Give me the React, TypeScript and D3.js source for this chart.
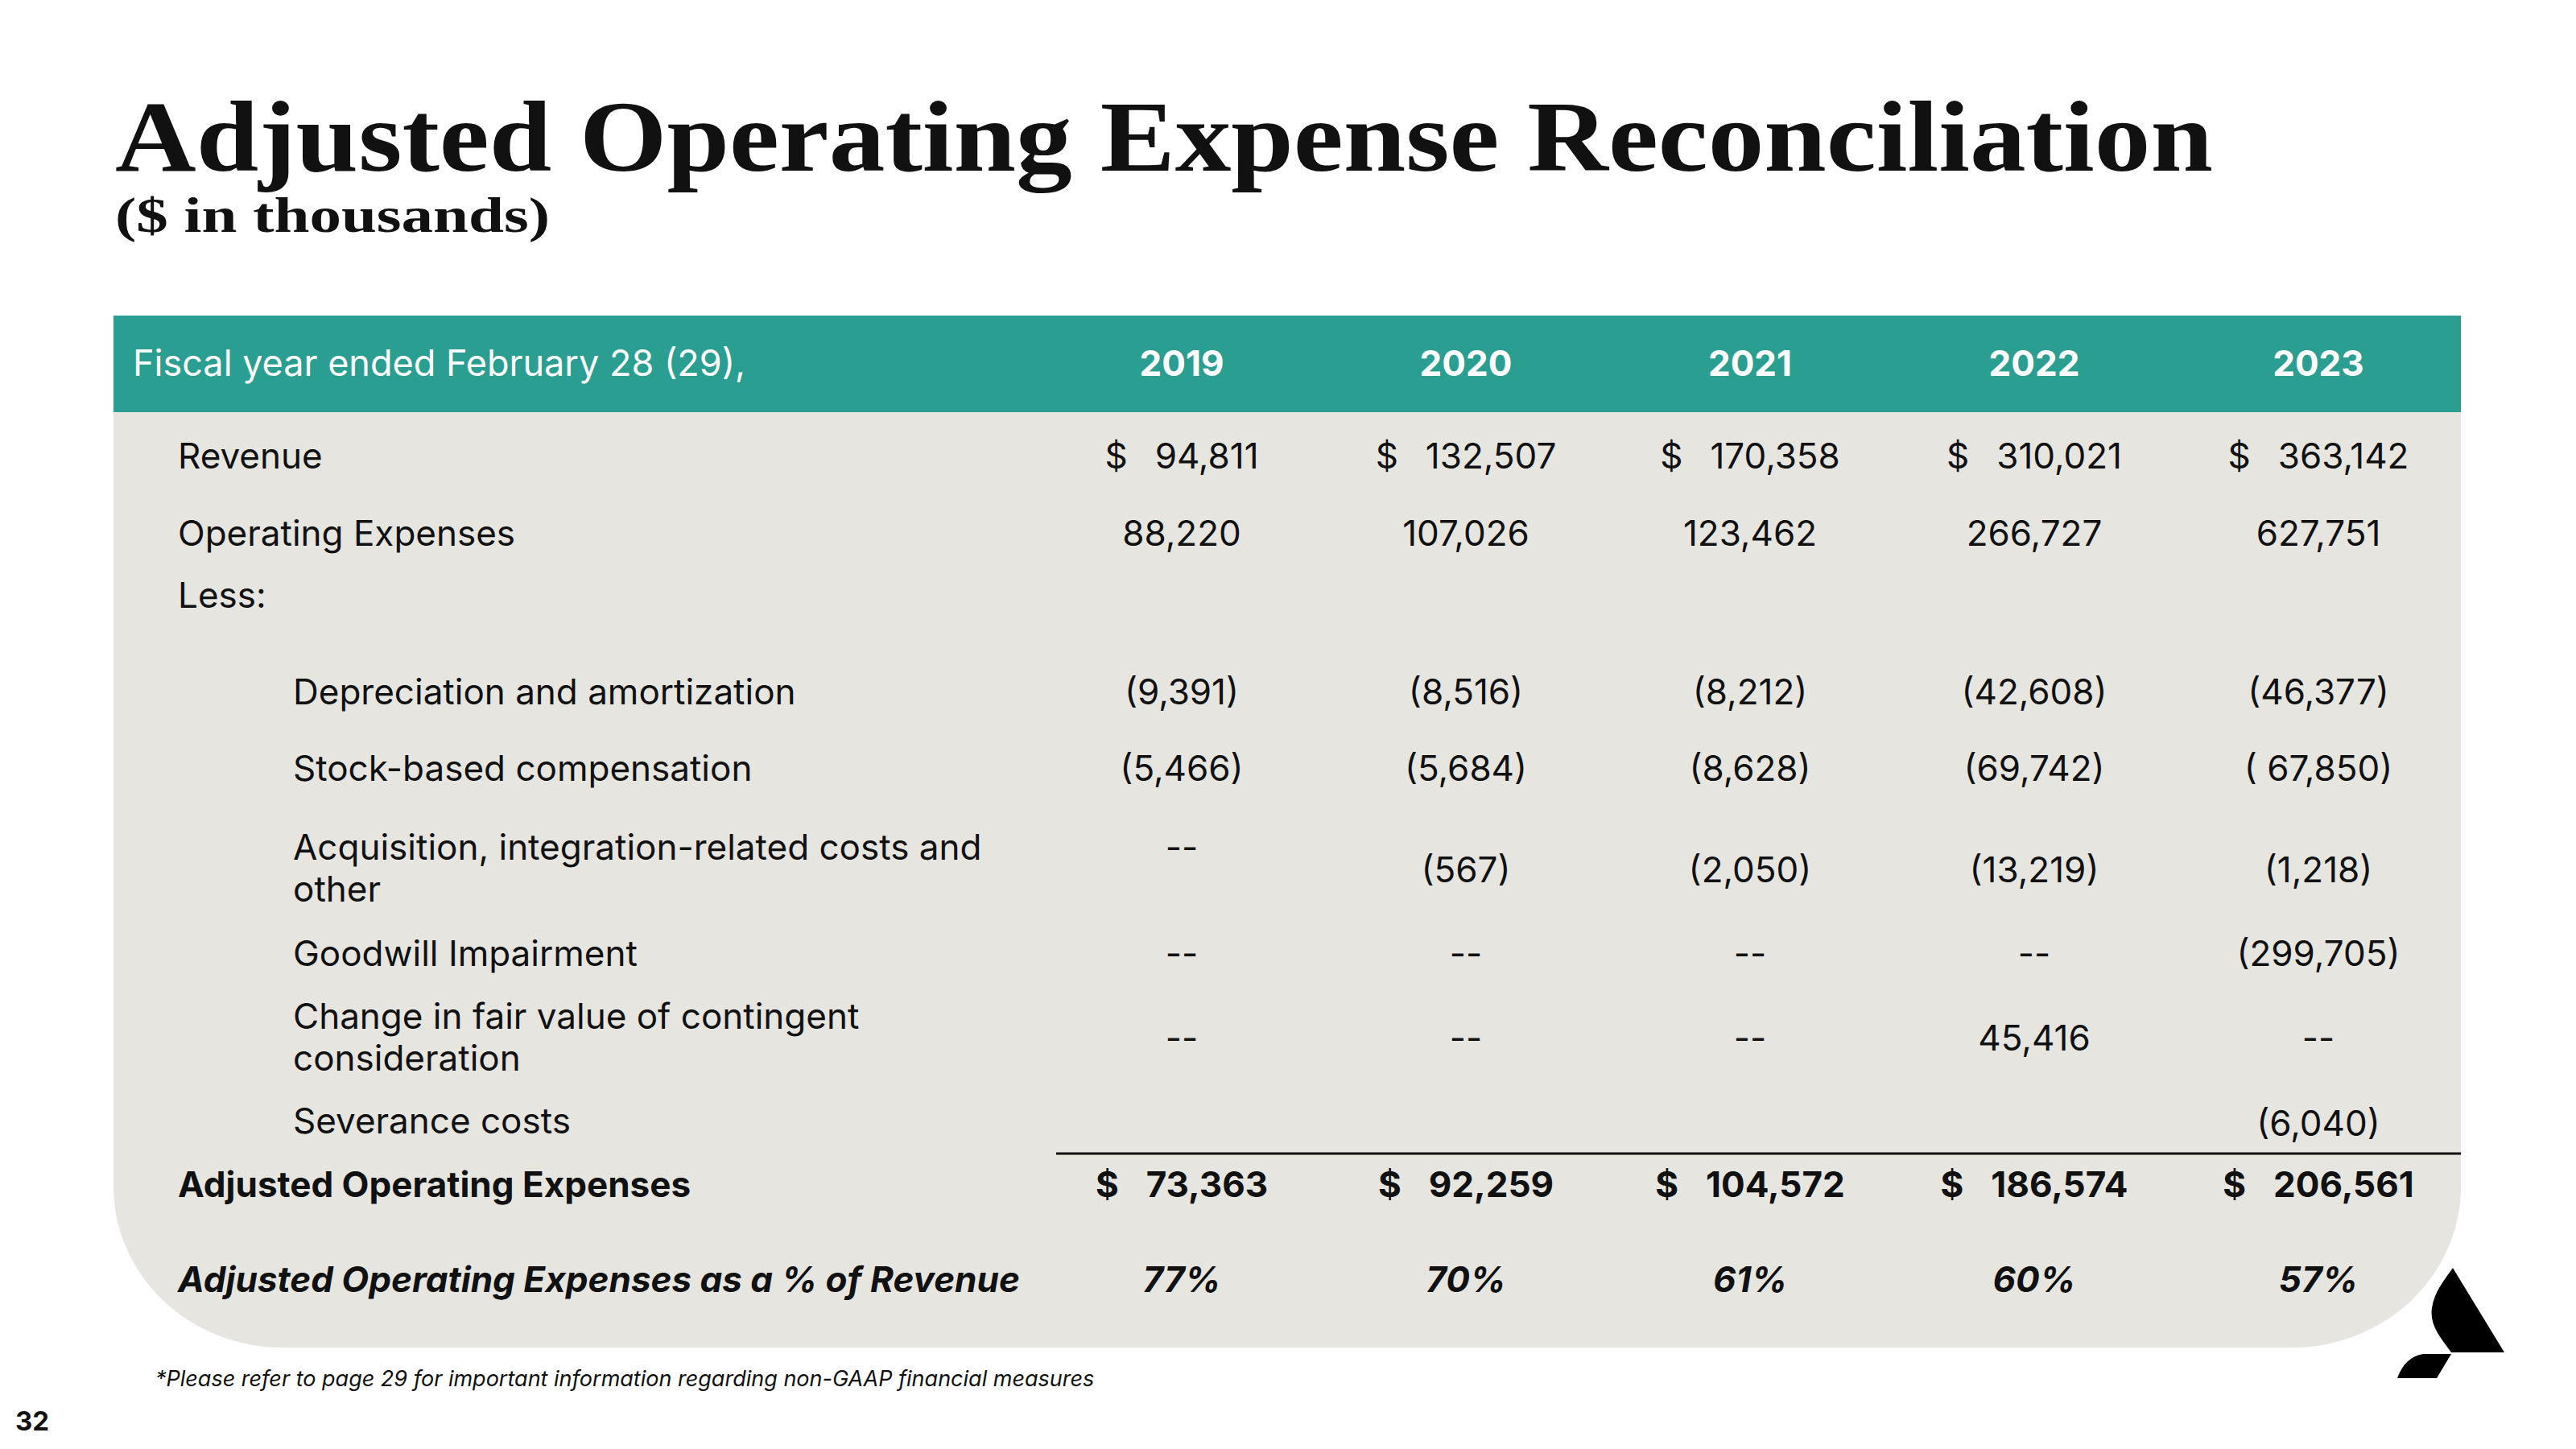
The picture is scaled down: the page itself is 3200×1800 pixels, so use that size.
import React from "react";
import * as d3 from "d3";

const years = ["2019", "2020", "2021", "2022", "2023"];
const revenue = [94811, 132507, 170358, 310021, 363142];
const operatingExpenses = [88220, 107026, 123462, 266727, 627751];
const depreciation = ["(9,391)", "(8,516)", "(8,212)", "(42,608)", "(46,377)"];
const stockComp = ["(5,466)", "(5,684)", "(8,628)", "(69,742)", "( 67,850)"];
const acquisition = ["--", "(567)", "(2,050)", "(13,219)", "(1,218)"];
const goodwill = ["--", "--", "--", "--", "(299,705)"];
const contingent = ["--", "--", "--", "45,416", "--"];
const severance = ["", "", "", "", "(6,040)"];
const adjustedOpex = [73363, 92259, 104572, 186574, 206561];
const adjustedPct = ["77%", "70%", "61%", "60%", "57%"];

const TEAL = "#2A9E91";
const GREY = "#E6E5E0";
const SANS = "Inter, 'Noto Sans', sans-serif";
const SERIF = "'Liberation Serif', 'DejaVu Serif', serif";

const fmt = d3.format(",");

export default function App() {
  const W = 3200;
  const H = 1800;
  const left = 141;
  const right = 3057;
  const bandTop = 392;
  const bandBottom = 512;
  const bodyBottom = 1674;
  const rx = 210;
  const ry = 200;

  const x = d3.scalePoint<string>().domain(years).range([1468, 2880]);

  const fs = 44;

  const bgD =
    `M${left},${bandBottom} L${right},${bandBottom} L${right},${bodyBottom - ry} ` +
    `A${rx},${ry} 0 0 1 ${right - rx},${bodyBottom} L${left + rx},${bodyBottom} ` +
    `A${rx},${ry} 0 0 1 ${left},${bodyBottom - ry} Z`;

  const labelX = 221;
  const indentX = 364;

  const dollarCell = (v: number, i: number, y: number, bold: boolean) => (
    <text
      key={i}
      x={x(years[i])}
      y={y}
      textAnchor="middle"
      fontFamily={SANS}
      fontSize={fs}
      fontWeight={bold ? 700 : 400}
      fill="#111"
    >
      <tspan>$</tspan>
      <tspan dx={34}>{fmt(v)}</tspan>
    </text>
  );

  const plainCells = (vals: string[], y: number | ((i: number) => number), key: string) =>
    vals.map((v, i) => (
      <text
        key={key + i}
        x={x(years[i])}
        y={typeof y === "function" ? y(i) : y}
        textAnchor="middle"
        fontFamily={SANS}
        fontSize={fs}
        fill="#111"
        style={{ whiteSpace: "pre" }}
      >
        {v}
      </text>
    ));

  const label = (t: string, xx: number, y: number, extra: any = {}) => (
    <text x={xx} y={y} fontFamily={SANS} fontSize={fs} fill="#111" {...extra}>
      {t}
    </text>
  );

  return (
    <svg
      width={W}
      height={H}
      viewBox={`0 0 ${W} ${H}`}
      style={{ position: "absolute", left: 0, top: 0, background: "#fff" }}
    >
      <rect x={0} y={0} width={W} height={H} fill="#fff" />
      <text
        x={143}
        y={212}
        fontFamily={SERIF}
        fontWeight={700}
        fontSize={124}
        textLength={2606}
        lengthAdjust="spacingAndGlyphs"
        fill="#111"
      >
        Adjusted Operating Expense Reconciliation
      </text>
      <text
        x={143}
        y={288}
        fontFamily={SERIF}
        fontWeight={700}
        fontSize={62}
        textLength={540}
        lengthAdjust="spacingAndGlyphs"
        fill="#111"
      >
        ($ in thousands)
      </text>

      <path d={bgD} fill={GREY} />
      <rect x={left} y={bandTop} width={right - left} height={bandBottom - bandTop} fill={TEAL} />

      <text x={165} y={467} fontFamily={SANS} fontSize={45} fill="#fff">
        Fiscal year ended February 28 (29),
      </text>
      {years.map((yr) => (
        <text
          key={yr}
          x={x(yr)}
          y={467}
          textAnchor="middle"
          fontFamily={SANS}
          fontSize={fs}
          fontWeight={700}
          fill="#fff"
        >
          {yr}
        </text>
      ))}

      {label("Revenue", labelX, 582)}
      {revenue.map((v, i) => dollarCell(v, i, 582, false))}

      {label("Operating Expenses", labelX, 678)}
      {plainCells(operatingExpenses.map(fmt), 678, "op")}

      {label("Less:", labelX, 755)}

      {label("Depreciation and amortization", indentX, 875)}
      {plainCells(depreciation, 875, "dep")}

      {label("Stock-based compensation", indentX, 970)}
      {plainCells(stockComp, 970, "sbc")}

      {label("Acquisition, integration-related costs and", indentX, 1068)}
      {label("other", indentX, 1120)}
      {plainCells(acquisition, (i) => (acquisition[i] === "--" ? 1068 : 1096), "acq")}

      {label("Goodwill Impairment", indentX, 1200)}
      {plainCells(goodwill, 1200, "gw")}

      {label("Change in fair value of contingent", indentX, 1278)}
      {label("consideration", indentX, 1330)}
      {plainCells(contingent, 1305, "cc")}

      {label("Severance costs", indentX, 1408)}
      {plainCells(severance, 1411, "sev")}

      <line x1={1312} x2={right} y1={1433} y2={1433} stroke="#111" strokeWidth={3} />

      {label("Adjusted Operating Expenses", labelX, 1487, { fontWeight: 700 })}
      {adjustedOpex.map((v, i) => dollarCell(v, i, 1487, true))}

      {label("Adjusted Operating Expenses as a % of Revenue", labelX, 1605, {
        fontWeight: 700,
        fontStyle: "italic",
      })}
      {adjustedPct.map((v, i) => (
        <text
          key={"pct" + i}
          x={x(years[i])}
          y={1605}
          textAnchor="middle"
          fontFamily={SANS}
          fontSize={fs}
          fontWeight={700}
          fontStyle="italic"
          fill="#111"
        >
          {v}
        </text>
      ))}

      <text x={193} y={1722} fontFamily={SANS} fontSize={27} fontStyle="italic" fill="#111">
        *Please refer to page 29 for important information regarding non-GAAP financial measures
      </text>
      <text x={19} y={1777} fontFamily={SANS} fontSize={33} fontWeight={700} fill="#111">
        32
      </text>

      <g fill="#000">
        <path d="M3047,1575 L3111,1680 L3045,1680 C3030,1660 3018,1645 3021,1625 C3024,1605 3035,1592 3047,1575 Z" />
        <path d="M3010,1682 L3045,1682 L3027,1712 L2978,1712 C2984,1695 2995,1684 3010,1682 Z" />
      </g>
    </svg>
  );
}
